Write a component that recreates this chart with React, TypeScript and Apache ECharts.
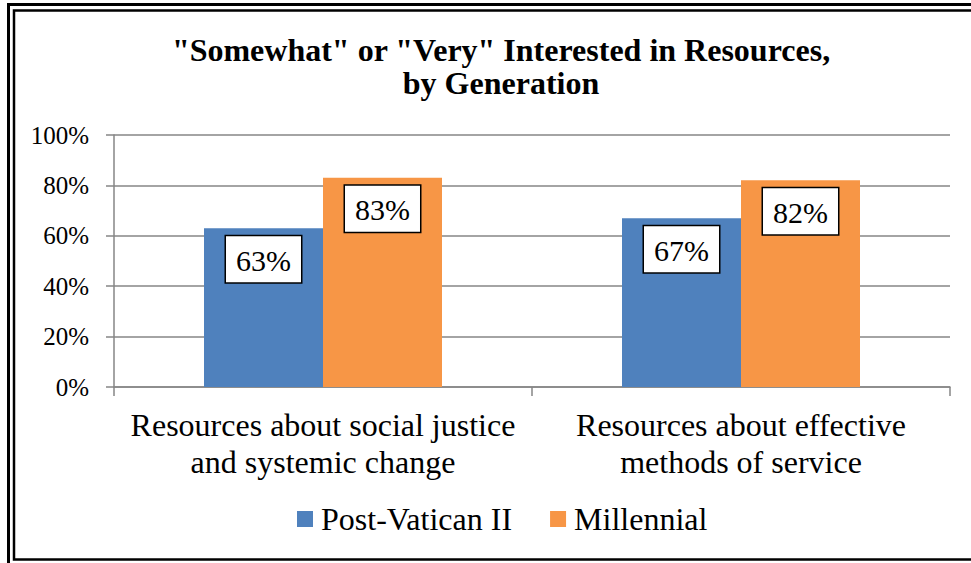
import React, { useEffect, useRef } from "react";
import * as echarts from "echarts";

const categories = [
  "Resources about social justice\nand systemic change",
  "Resources about effective\nmethods of service",
];
const postVatican = [63, 67];
const millennial = [83, 82];
const seriesNames = ["Post-Vatican II", "Millennial"];
const titleText = '"Somewhat" or "Very" Interested in Resources,\nby Generation';

const FONT = "Liberation Serif";

export default function App() {
  const ref = useRef<HTMLDivElement>(null);
  useEffect(() => {
    if (!ref.current) return;
    const chart = echarts.init(ref.current, null, { renderer: "svg" });
    const label = {
      show: true,
      position: "insideTop",
      distance: 8,
      formatter: "{c}%",
      fontFamily: FONT,
      fontSize: 30,
      lineHeight: 30,
      color: "#000",
      backgroundColor: "#fff",
      borderColor: "#000",
      borderWidth: 1.5,
      padding: [9, 10, 7, 10],
    };
    chart.setOption({
      animation: false,
      backgroundColor: "#fff",
      textStyle: { fontFamily: FONT },
      title: {
        text: titleText,
        left: 496,
        textAlign: "center",
        top: 28,
        textStyle: {
          fontFamily: FONT,
          fontWeight: "bold",
          fontSize: 32,
          lineHeight: 33,
          color: "#000",
        },
      },
      legend: {
        bottom: 23,
        left: 292,
        itemWidth: 16,
        itemHeight: 16,
        itemGap: 38,
        icon: "rect",
        textStyle: { fontFamily: FONT, fontSize: 32, color: "#000", padding: [0, 0, 0, 3] },
        data: seriesNames,
      },
      grid: { left: 114, right: 21, top: 135, bottom: 176, containLabel: false },
      xAxis: {
        type: "category",
        data: categories,
        axisLine: { lineStyle: { color: "#868686", width: 1.5 } },
        axisTick: { show: true, length: 9, lineStyle: { color: "#868686", width: 1.5 } },
        axisLabel: {
          fontFamily: FONT,
          fontSize: 32,
          lineHeight: 37,
          color: "#000",
          margin: 19,
          interval: 0,
        },
      },
      yAxis: {
        type: "value",
        min: 0,
        max: 100,
        interval: 20,
        axisLine: { show: true, lineStyle: { color: "#868686", width: 1.5 } },
        axisTick: { show: true, length: 8, lineStyle: { color: "#868686", width: 1.5 } },
        splitLine: { lineStyle: { color: "#868686", width: 1.5 } },
        axisLabel: {
          formatter: "{value}%",
          fontFamily: FONT,
          fontSize: 25,
          color: "#000",
          margin: 25,
        },
      },
      series: [
        {
          name: seriesNames[0],
          type: "bar",
          data: postVatican,
          barWidth: 119,
          barGap: "0%",
          itemStyle: { color: "#4F81BD" },
          label,
        },
        {
          name: seriesNames[1],
          type: "bar",
          data: millennial,
          barWidth: 119,
          barGap: "0%",
          itemStyle: { color: "#F79646" },
          label,
        },
      ],
      graphic: [
        {
          type: "rect",
          shape: { x: 8.5, y: 4.5, width: 1000, height: 600 },
          style: { fill: "none", stroke: "#000", lineWidth: 3 },
          silent: true,
        },
        {
          type: "rect",
          shape: { x: 14, y: 10.5, width: 1000, height: 549 },
          style: { fill: "none", stroke: "#000", lineWidth: 2.5 },
          silent: true,
        },
      ],
    });
    return () => chart.dispose();
  }, []);
  return (
    <div
      ref={ref}
      style={{ position: "fixed", left: 0, top: 0, width: 971, height: 563 }}
    />
  );
}
